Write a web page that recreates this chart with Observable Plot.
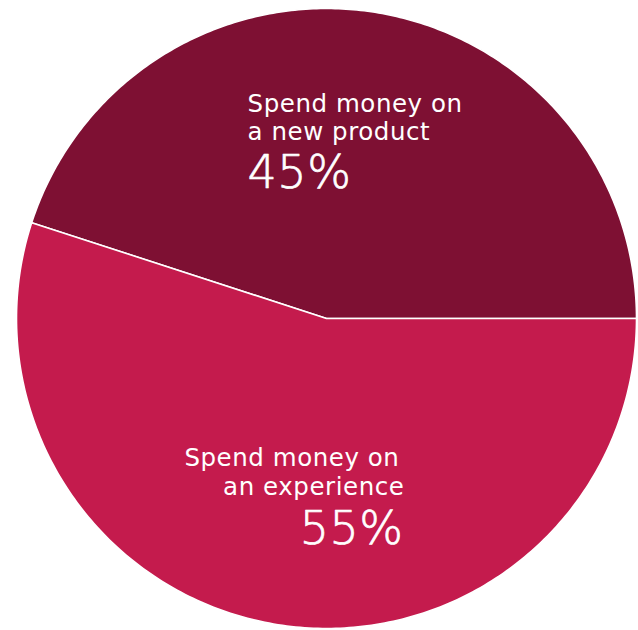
<!DOCTYPE html>
<html>
<head>
<meta charset="utf-8">
<script src="https://cdn.jsdelivr.net/npm/d3@7"></script>
<script src="https://cdn.jsdelivr.net/npm/@observablehq/plot@0.6"></script>
<style>
  html, body { margin: 0; padding: 0; background: #fff; }
  #chart svg { display: block; }
  .lbl text { letter-spacing: 0.55px; }
  .pct text { letter-spacing: 0.5px; }
</style>
</head>
<body>
<div id="chart"></div>
<script>
// ---- data ----
const categories = ["Spend money on a new product", "Spend money on an experience"];
const labelLines = [["Spend money on", "a new product"], ["Spend money on", "an experience"]];
const values = [45, 55];
const colors = ["#7E1033", "#C41B4D"];

// ---- geometry built from the data (angles counterclockwise from 3 o'clock) ----
const total = d3.sum(values);
const ends = d3.cumsum(values);
const slices = values.map((v, i) => ({
  name: categories[i],
  lines: labelLines[i],
  value: v,
  a0: ((ends[i] - v) / total) * 2 * Math.PI,
  a1: (ends[i] / total) * 2 * Math.PI
}));
const pts = [];
for (const s of slices) {
  pts.push({name: s.name, x: 0, y: 0});
  const n = 240;
  for (let k = 0; k <= n; k++) {
    const a = s.a0 + (s.a1 - s.a0) * k / n;
    pts.push({name: s.name, x: Math.cos(a), y: Math.sin(a)});
  }
  pts.push({name: s.name, x: 0, y: 0});
}
const mid = s => (s.a0 + s.a1) / 2;
const cx = s => 0.6 * Math.cos(mid(s));
const cy = s => 0.6 * Math.sin(mid(s));

const font = "'DejaVu Sans', sans-serif";
const topSlice = slices.filter((s, i) => i === 0);
const botSlice = slices.filter((s, i) => i === 1);
const lbl = {fill: "white", fontSize: 24.5, lineAnchor: "bottom", className: "lbl"};
const pct = {fill: "white", stroke: "white", strokeWidth: 0.7, fontSize: 46, fontWeight: 300, lineAnchor: "bottom", className: "pct"};

const plot = Plot.plot({
  width: 638,
  height: 630,
  marginLeft: 16,
  marginRight: 2,
  marginTop: 8,
  marginBottom: 2,
  x: {domain: [-1, 1], axis: null},
  y: {domain: [-1, 1], axis: null},
  color: {domain: categories, range: colors},
  style: {fontFamily: font},
  marks: [
    Plot.line(pts, {x: "x", y: "y", z: "name", fill: "name", stroke: "white", strokeWidth: 1.6, strokeLinejoin: "round", curve: "linear"}),
    // top slice label (left aligned)
    Plot.text(topSlice, {...lbl, x: cx, y: cy, text: s => s.lines[0], textAnchor: "start", dx: -108, dy: -23}),
    Plot.text(topSlice, {...lbl, x: cx, y: cy, text: s => s.lines[1], textAnchor: "start", dx: -108, dy: 5}),
    Plot.text(topSlice, {...pct, x: cx, y: cy, text: s => s.value + "%", textAnchor: "start", dx: -108, dy: 53}),
    // bottom slice label (right aligned)
    Plot.text(botSlice, {...lbl, x: cx, y: cy, text: s => s.lines[0], textAnchor: "end", dx: 102, dy: -36}),
    Plot.text(botSlice, {...lbl, x: cx, y: cy, text: s => s.lines[1], textAnchor: "end", dx: 107, dy: -7}),
    Plot.text(botSlice, {...pct, x: cx, y: cy, text: s => s.value + "%", textAnchor: "end", dx: 106, dy: 42})
  ]
});
document.getElementById("chart").appendChild(plot);
</script>
</body>
</html>
